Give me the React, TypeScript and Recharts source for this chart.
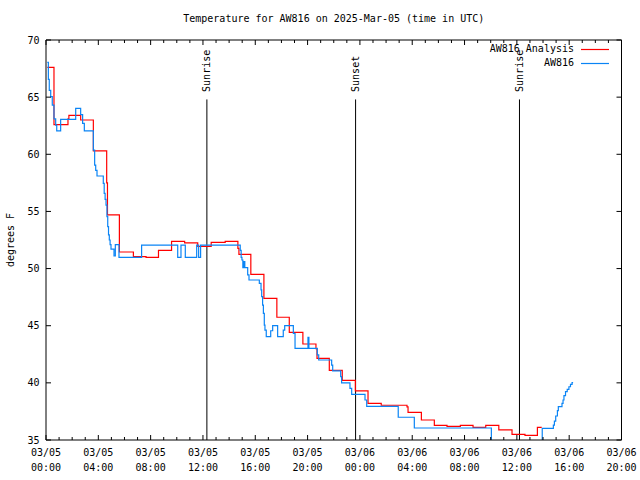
import React from "react";
import { LineChart, Line, XAxis, YAxis, ReferenceLine, Legend } from "recharts";

const FONT = "'DejaVu Sans Mono', monospace";

// hours since 03/05 00:00 UTC
const analysisHours = [
  0.1, 0.61, 1.68, 1.75, 2.65, 3.62, 4.64, 4.7, 5.61, 6.68,
  7.65, 8.6, 9.6, 10.6, 11.6, 12.63, 13.7, 14.67, 14.75, 15.66,
  16.66, 17.65, 18.6, 19.64, 20.64, 20.72, 21.66, 22.65, 23.65, 24.62,
  25.63, 27.6, 27.68, 28.7, 29.69, 30.66, 31.68, 32.65, 33.62, 34.62,
  35.63, 36.62, 37.57, 37.9,
];
const analysisTemps = [
  67.6, 62.6, 63.1, 63.4, 63.0, 60.3, 57.5, 54.7, 51.45, 51.05,
  50.98, 51.6, 52.38, 52.24, 51.95, 52.3, 52.38, 51.77, 51.25, 49.5,
  47.4, 45.74, 44.42, 43.4, 43.0, 42.15, 41.1, 40.22, 39.3, 38.2,
  38.04, 37.9, 37.42, 36.75, 36.28, 36.2, 36.28, 36.1, 36.28, 35.88,
  35.5, 35.41, 36.1, 36.1,
];

const stationHours = [
  0.1, 0.18, 0.25, 0.36, 0.48, 0.61, 0.74, 0.82, 1.12, 2.27,
  2.65, 2.8, 2.93, 3.62, 3.72, 3.8, 3.9, 4.38, 4.45, 4.52,
  4.59, 4.66, 4.72, 4.78, 4.84, 4.9, 4.97, 5.2, 5.3, 5.58,
  7.31, 10.07, 10.32, 10.65, 11.52, 11.67, 11.82, 14.85, 14.92, 14.98,
  15.05, 15.12, 15.2, 15.42, 15.52, 16.31, 16.44, 16.49, 16.56, 16.62,
  16.69, 16.74, 16.84, 17.18, 17.33, 17.71, 18.14, 18.25, 18.91, 19.04,
  20.03, 20.1, 20.74, 20.85, 21.84, 21.92, 22.53, 22.6, 23.24, 23.37,
  24.39, 24.52, 26.93, 28.16, 34.05, 37.94, 38.79, 38.87, 38.97, 39.1,
  39.17, 39.45, 39.53, 39.6, 39.72, 39.85, 39.98, 40.1, 40.22, 40.3,
];
const stationTemps = [
  68.05, 66.56, 65.6, 65.04, 64.3, 63.09, 62.56, 62.04, 63.06, 64.02,
  63.47, 62.7, 62.04, 60.37, 59.06, 58.6, 58.1, 57.46, 56.58, 56.06,
  55.56, 54.55, 53.67, 52.94, 52.5, 52.1, 51.7, 51.1, 52.1, 50.98,
  52.06, 50.98, 52.06, 50.98, 52.06, 50.98, 52.06, 51.6, 50.98, 50.75,
  50.08, 50.6, 50.08, 49.44, 49.0, 48.71, 48.13, 47.54, 46.81, 46.08,
  45.06, 44.62, 44.04, 44.56, 45.0, 44.04, 44.62, 45.0, 44.33, 43.02,
  43.98, 43.02, 42.44, 42.0, 41.56, 41.04, 40.54, 39.99, 39.52, 39.0,
  38.5, 37.95, 36.99, 36.05, 34.5, 36.02, 36.31, 36.66, 37.1, 37.57,
  37.92, 38.2, 38.5, 38.88, 39.23, 39.43, 39.66, 39.87, 40.02, 40.02,
];

const sunHours = [12.3, 23.67, 36.2];
const sunNames = ["Sunrise", "Sunset", "Sunrise"];

const seriesNames = ["AW816 Analysis", "AW816"];
const seriesColors = ["#ff0000", "#0a84f5"];

const majorTicks = [0, 4, 8, 12, 16, 20, 24, 28, 32, 36, 40, 44];
const dateLabels = [
  "03/05", "03/05", "03/05", "03/05", "03/05", "03/05",
  "03/06", "03/06", "03/06", "03/06", "03/06", "03/06",
];
const timeLabels = [
  "00:00", "04:00", "08:00", "12:00", "16:00", "20:00",
  "00:00", "04:00", "08:00", "12:00", "16:00", "20:00",
];
const hourTicks = Array.from({ length: 45 }, (_, i) => i);
const yTicks = [35, 40, 45, 50, 55, 60, 65, 70];

const analysisData = analysisHours.map((h, i) => ({ h, t: analysisTemps[i] }));
const stationData = stationHours.map((h, i) => ({ h, t: stationTemps[i] }));

const textStyle = { fontFamily: FONT, fontSize: 10, fill: "#000" };

const BottomTick = (props: any) => {
  const { x, y, payload } = props;
  const idx = majorTicks.indexOf(payload.value);
  const major = idx >= 0;
  return (
    <g>
      <line x1={x} x2={x} y1={y} y2={y - (major ? 5 : 3)} stroke="#000" />
      {major && (
        <text x={x} y={y + 15.5} textAnchor="middle" style={textStyle}>
          {dateLabels[idx]}
        </text>
      )}
      {major && (
        <text x={x} y={y + 30.5} textAnchor="middle" style={textStyle}>
          {timeLabels[idx]}
        </text>
      )}
    </g>
  );
};

const TopTick = (props: any) => {
  const { x, y, payload } = props;
  const major = majorTicks.includes(payload.value);
  return <line x1={x} x2={x} y1={y} y2={y + (major ? 5 : 3)} stroke="#000" />;
};

const LeftTick = (props: any) => {
  const { x, y, payload } = props;
  return (
    <g>
      <line x1={x} x2={x + 5} y1={y} y2={y} stroke="#000" />
      <text x={x - 6.5} y={y} dy="0.35em" textAnchor="end" style={textStyle}>
        {payload.value}
      </text>
    </g>
  );
};

const RightTick = (props: any) => {
  const { x, y } = props;
  return <line x1={x} x2={x - 5} y1={y} y2={y} stroke="#000" />;
};

const sunLabel = (name: string) => (props: any) => {
  const { viewBox } = props;
  const x = viewBox.x;
  const y = viewBox.y - 7.5;
  return (
    <text
      x={x}
      y={y}
      dy="0.35em"
      textAnchor="start"
      transform={`rotate(-90 ${x} ${y})`}
      style={textStyle}
    >
      {name}
    </text>
  );
};

// legend: name right-aligned, colour sample to the right, like gnuplot's key
const renderLegend = () => (
  <div style={{ fontFamily: FONT, fontSize: 10, color: "#000" }}>
    {seriesNames.map((name, i) => (
      <div
        key={name}
        style={{
          display: "flex",
          alignItems: "center",
          justifyContent: "flex-end",
          height: 14,
          lineHeight: "14px",
        }}
      >
        <span style={{ whiteSpace: "pre" }}>{name}</span>
        <svg width={35} height={14}>
          <line x1={7} x2={35} y1={7.5} y2={7.5} stroke={seriesColors[i]} strokeWidth={1.2} />
        </svg>
      </div>
    ))}
  </div>
);

export default function App() {
  return (
    <div style={{ position: "absolute", left: 0, top: 0, width: 640, height: 480, background: "#fff" }}>
      <div
        style={{
          position: "absolute",
          left: 46,
          width: 575.5,
          top: 13,
          lineHeight: "12px",
          textAlign: "center",
          fontFamily: FONT,
          fontSize: 10,
          whiteSpace: "pre",
        }}
      >
        Temperature for AW816 on 2025-Mar-05 (time in UTC)
      </div>
      <LineChart width={640} height={480} margin={{ top: 39, right: 17.5, bottom: 0, left: 0 }}>
        <XAxis
          xAxisId="main"
          dataKey="h"
          type="number"
          domain={[0, 44]}
          ticks={hourTicks}
          interval={0}
          allowDataOverflow
          height={40}
          tickSize={0}
          tickMargin={0}
          tickLine={false}
          tick={<BottomTick />}
          axisLine={{ stroke: "#000" }}
        />
        <XAxis
          xAxisId="top"
          orientation="top"
          dataKey="h"
          type="number"
          domain={[0, 44]}
          ticks={hourTicks}
          interval={0}
          allowDataOverflow
          height={1}
          tickSize={0}
          tickMargin={0}
          tickLine={false}
          tick={<TopTick />}
          axisLine={{ stroke: "#000" }}
        />
        <YAxis
          yAxisId="left"
          type="number"
          domain={[35, 70]}
          ticks={yTicks}
          interval={0}
          allowDataOverflow
          width={46}
          tickSize={0}
          tickMargin={0}
          tickLine={false}
          tick={<LeftTick />}
          axisLine={{ stroke: "#000" }}
          label={{
            value: "degrees F",
            content: () => (
              <text
                x={10}
                y={240}
                dy="0.35em"
                textAnchor="middle"
                transform="rotate(-90 10 240)"
                style={textStyle}
              >
                degrees F
              </text>
            ),
          }}
        />
        <YAxis
          yAxisId="right"
          orientation="right"
          type="number"
          domain={[35, 70]}
          ticks={yTicks}
          interval={0}
          allowDataOverflow
          width={1}
          tickSize={0}
          tickMargin={0}
          tickLine={false}
          tick={<RightTick />}
          axisLine={{ stroke: "#000" }}
        />
        {sunHours.map((h, i) => (
          <ReferenceLine
            key={`sun-${i}`}
            xAxisId="main"
            yAxisId="left"
            segment={[
              { x: h, y: 35 },
              { x: h, y: 64.8 },
            ]}
            stroke="#000"
            label={sunLabel(sunNames[i])}
          />
        ))}
        <Line
          xAxisId="main"
          yAxisId="left"
          data={analysisData}
          dataKey="t"
          name={seriesNames[0]}
          type="stepAfter"
          stroke={seriesColors[0]}
          strokeWidth={1.2}
          dot={false}
          isAnimationActive={false}
        />
        <Line
          xAxisId="main"
          yAxisId="left"
          data={stationData}
          dataKey="t"
          name={seriesNames[1]}
          type="stepAfter"
          stroke={seriesColors[1]}
          strokeWidth={1.2}
          dot={false}
          isAnimationActive={false}
        />
        <Legend
          layout="vertical"
          align="center"
          verticalAlign="middle"
          content={renderLegend}
          wrapperStyle={{ top: 42, right: 31, left: "auto", bottom: "auto", width: "auto" }}
        />
      </LineChart>
    </div>
  );
}
